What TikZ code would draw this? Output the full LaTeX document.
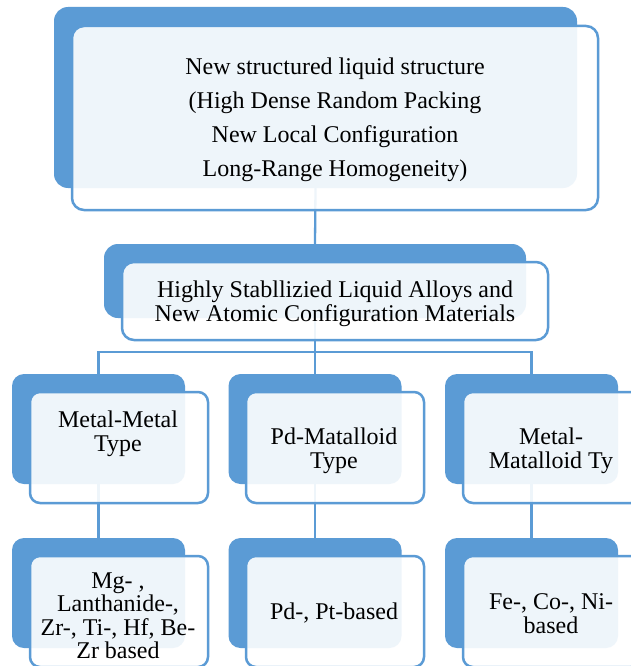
\documentclass[tikz,border=0pt]{standalone}
\usepackage{fontspec}
\setmainfont{Liberation Serif}
\definecolor{accent}{RGB}{91,155,213}
\begin{document}
\begin{tikzpicture}[x=1pt,y=-1pt,
  backbox/.style={rectangle, fill=accent, draw=none, rounded corners=14pt, inner sep=0pt},
  frontbox/.style={rectangle, fill=white, fill opacity=0.9, draw=accent, draw opacity=1, line width=2.5pt, rounded corners=12pt, inner sep=0pt},
  conn/.style={draw=accent, line width=2.3pt},
  lbl/.style={align=center, inner sep=0pt, text=black, font=\fontsize{24}{24}\selectfont},
  toplbl/.style={lbl, font=\fontsize{24}{34}\selectfont}
]
\useasboundingbox (0,0) rectangle (631,666);
\fill[white] (0,0) rectangle (631,666);
\clip (0,0) rectangle (631,666);

% back boxes
\node[backbox, minimum width=523pt, minimum height=181pt] (b1) at (315.5,97.5) {};
\node[backbox, minimum width=422pt, minimum height=74pt] (b2) at (315,281) {};
\node[backbox, minimum width=173pt, minimum height=110pt, rounded corners=12pt] (b3a) at (98.5,429) {};
\node[backbox, minimum width=173pt, minimum height=110pt, rounded corners=12pt] (b3b) at (315,429) {};
\node[backbox, minimum width=173pt, minimum height=110pt, rounded corners=12pt] (b3c) at (531.5,429) {};
\node[backbox, minimum width=173pt, minimum height=110pt, rounded corners=12pt] (b4a) at (98.5,593) {};
\node[backbox, minimum width=173pt, minimum height=110pt, rounded corners=12pt] (b4b) at (315,593) {};
\node[backbox, minimum width=173pt, minimum height=110pt, rounded corners=12pt] (b4c) at (531.5,593) {};

% connectors
\coordinate (bar) at (0,352);
\draw[conn] (b1.south) -- (b2.north);
\draw[conn] (b2.south) -- (b3b.north);
\draw[conn] (b3a.north) -- (b3a.north |- bar) -- (b3c.north |- bar) -- (b3c.north);
\draw[conn] (b3a.south) -- (b4a.north);
\draw[conn] (b3b.south) -- (b4b.north);
\draw[conn] (b3c.south) -- (b4c.north);

% front boxes
\node[frontbox, minimum width=526pt, minimum height=184pt] (f1) at (335,118) {};
\node[frontbox, minimum width=426pt, minimum height=78pt] (f2) at (335,301) {};
\node[frontbox, minimum width=178pt, minimum height=111pt, rounded corners=10pt] (f3a) at (119,447.5) {};
\node[frontbox, minimum width=178pt, minimum height=111pt, rounded corners=10pt] (f3b) at (335,447.5) {};
\node[frontbox, minimum width=178pt, minimum height=111pt, rounded corners=10pt] (f3c) at (552,447.5) {};
\node[frontbox, minimum width=178pt, minimum height=111pt, rounded corners=10pt] (f4a) at (119,611.5) {};
\node[frontbox, minimum width=178pt, minimum height=111pt, rounded corners=10pt] (f4b) at (335,611.5) {};
\node[frontbox, minimum width=178pt, minimum height=111pt, rounded corners=10pt] (f4c) at (552,611.5) {};

% texts
\node[toplbl] (t1) at (335,120) {New structured liquid structure\\(High Dense Random Packing\\New Local Configuration\\Long-Range Homogeneity)};
\node[lbl] (t2) at (335,304) {Highly Stabllizied Liquid Alloys and\\New Atomic Configuration Materials};
\node[lbl] (t3a) at (118,433.5) {Metal-Metal\\Type};
\node[lbl] (t3b) at (334,451) {Pd-Matalloid\\Type};
\node[lbl] (t3c) at (551,451) {Metal-\\Matalloid Ty};
\node[lbl, font=\fontsize{24}{23.5}\selectfont] (t4a) at (118,616) {Mg- ,\\Lanthanide-,\\Zr-, Ti-, Hf, Be-\\Zr based};
\node[lbl] (t4b) at (334,613.5) {Pd-, Pt-based};
\node[lbl] (t4c) at (551,614) {Fe-, Co-, Ni-\\based};
\end{tikzpicture}
\end{document}
